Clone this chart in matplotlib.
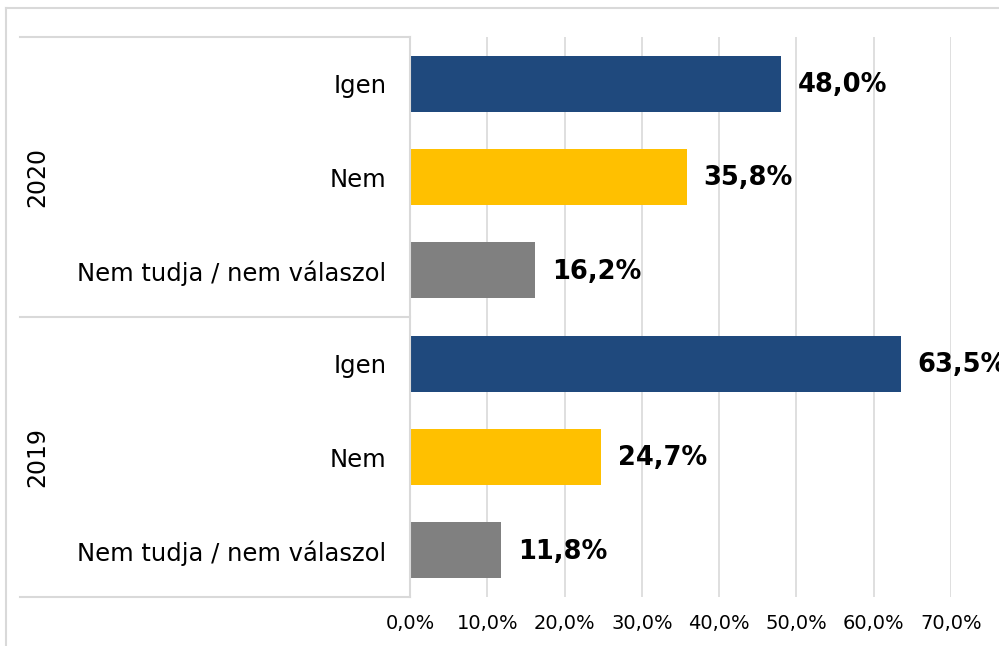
import numpy as np
import matplotlib
matplotlib.use('Agg')
import matplotlib.pyplot as plt
from matplotlib.lines import Line2D
from matplotlib.transforms import blended_transform_factory

# data
years = ['2020', '2019']
categories = ['Igen', 'Nem', 'Nem tudja / nem válaszol']
values_2020 = [48.0, 35.8, 16.2]
values_2019 = [63.5, 24.7, 11.8]
colors = ['#1F497D', '#FFC000', '#808080']
xticks = [0, 10, 20, 30, 40, 50, 60, 70]

plt.rcParams['font.family'] = ['DejaVu Sans']
W, H = 999, 646
fig = plt.figure(figsize=(W / 100, H / 100), dpi=100)
ax = fig.add_axes([410 / W, 1 - 597 / H, (951 - 410) / W, (597 - 37) / H])

labels = categories + categories
values = values_2020 + values_2019
bar_colors = colors + colors
ypos = np.arange(len(values))

ax.barh(ypos, values, height=0.6, color=bar_colors, zorder=3)
ax.set_ylim(len(values) - 0.5, -0.5)
ax.set_xlim(0, 70)

for y, v in zip(ypos, values):
    ax.annotate(f'{v:.1f}%'.replace('.', ','), (v, y), xytext=(12.2, -1),
                textcoords='offset points', va='center', ha='left',
                fontsize=18.5, fontweight='bold', clip_on=False, zorder=4)

ax.set_yticks(ypos)
ax.set_yticklabels(labels, fontsize=17.5)
ax.tick_params(axis='y', length=0, pad=17)
ax.set_xticks(xticks)
ax.set_xticklabels([f'{t:.1f}%'.replace('.', ',') for t in xticks], fontsize=14)
ax.tick_params(axis='x', length=0, pad=12)

grid_c = '#D9D9D9'
ax.grid(axis='x', color=grid_c, linewidth=1.2, zorder=0)
for s in ['top', 'right', 'bottom']:
    ax.spines[s].set_visible(False)
ax.spines['left'].set_color(grid_c)
ax.spines['left'].set_linewidth(1.5)
ax.spines['left'].set_zorder(5)

# table lines to the left of the plot
tr = blended_transform_factory(fig.transFigure, ax.transData)
for yl in [-0.5, 2.5, 5.5]:
    fig.add_artist(Line2D([20 / W, 410 / W], [yl, yl], transform=tr,
                          color=grid_c, linewidth=1.5))

# year labels
for i, yr in enumerate(years):
    fig.text(37 / W, 0, yr, transform=tr, rotation=90, fontsize=17,
             ha='center', va='center').set_y(i * 3 + 1)

# outer chart frame
fig.add_artist(Line2D([6 / W, 6 / W], [-0.1, 1 - 8 / H], transform=fig.transFigure,
                      color=grid_c, linewidth=1.5))
fig.add_artist(Line2D([6 / W, 1.1], [1 - 8 / H, 1 - 8 / H], transform=fig.transFigure,
                      color=grid_c, linewidth=1.5))

fig.savefig('out.png', dpi=100)
